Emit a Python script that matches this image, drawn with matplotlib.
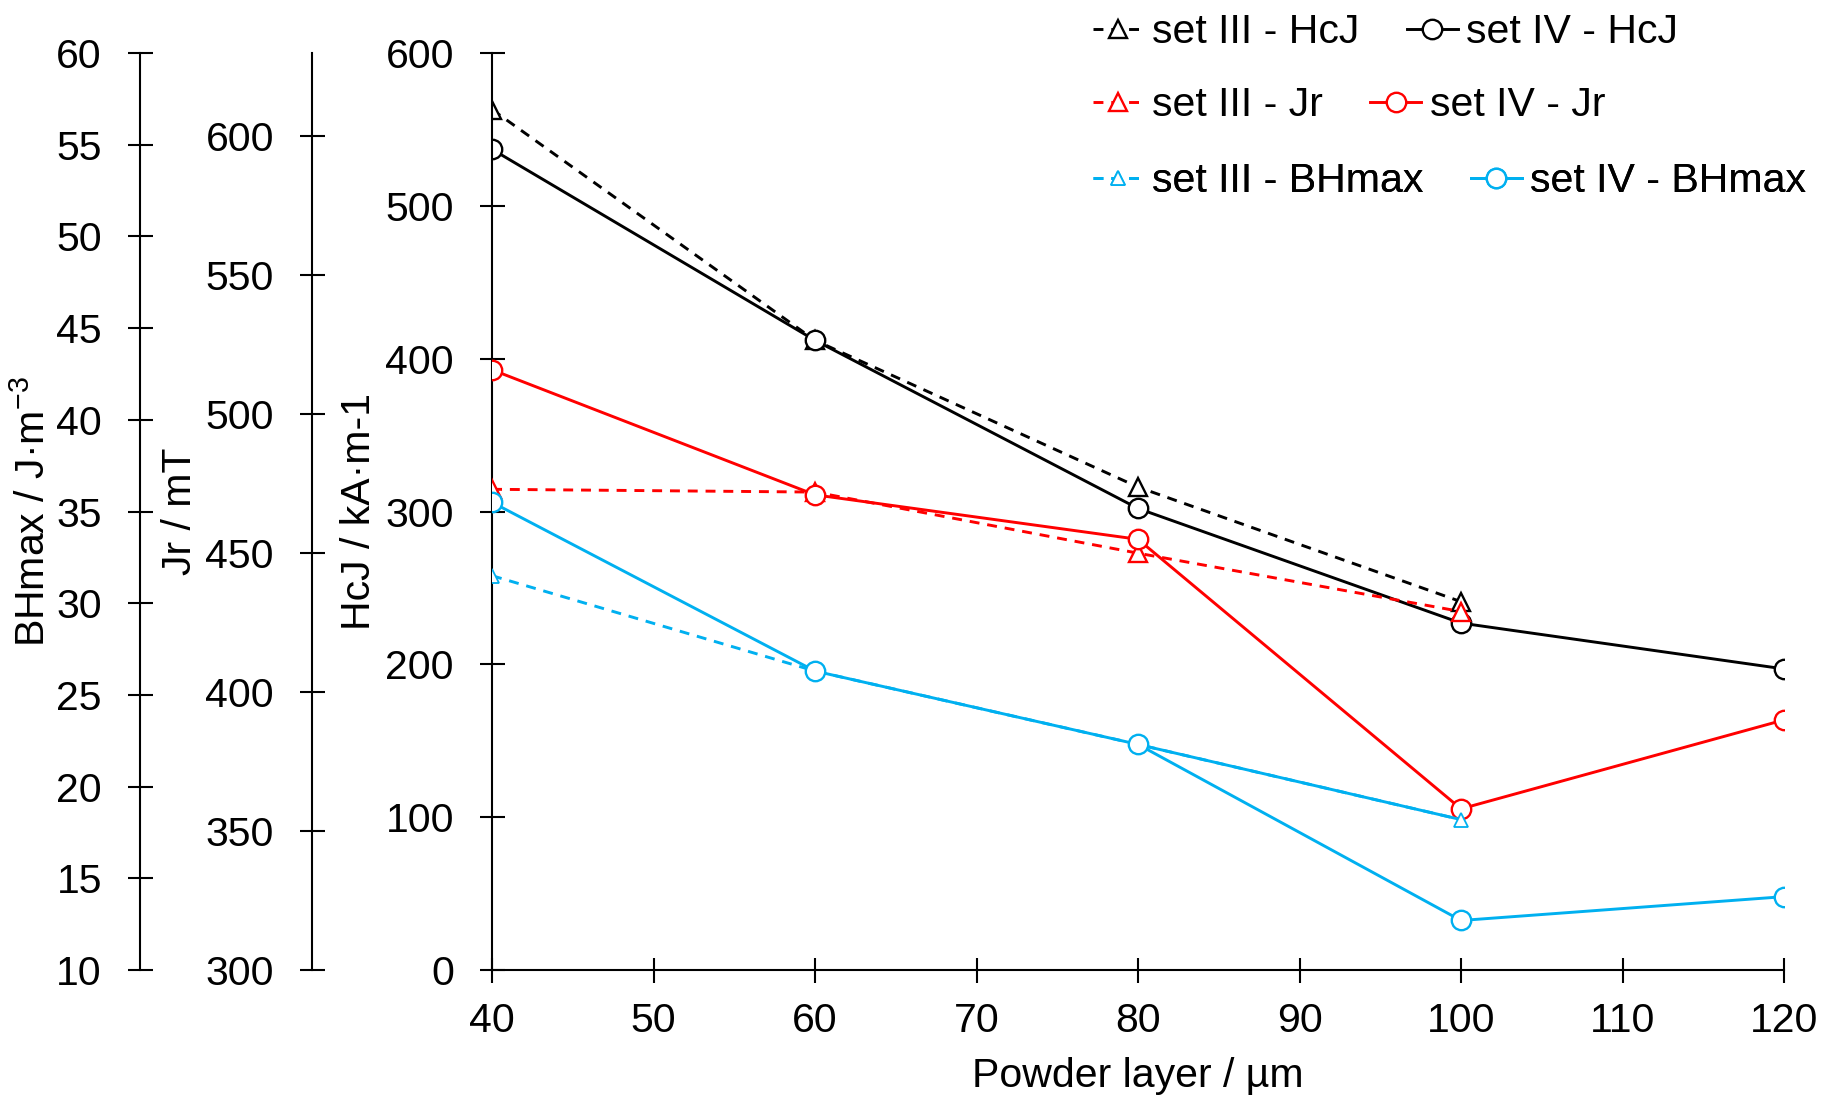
import matplotlib
matplotlib.use('Agg')
import matplotlib.pyplot as plt

plt.rcParams['font.family'] = ['Liberation Sans', 'DejaVu Sans']
plt.rcParams['mathtext.fontset'] = 'custom'
plt.rcParams['mathtext.rm'] = 'Liberation Sans'
plt.rcParams['mathtext.it'] = 'Liberation Sans:italic'
plt.rcParams['mathtext.default'] = 'regular'

# ---- data ----
x_set4 = [40, 60, 80, 100, 120]
x_set3 = [40, 60, 80, 100]
hcj_set3 = [563, 412, 316, 241]
hcj_set4 = [537, 412, 302, 227, 197]
jr_set3 = [473, 472, 450, 429]
jr_set4 = [516, 471, 455, 358, 390]
bh_set3 = [31.5, 26.3, 22.3, 18.2]
bh_set4 = [35.5, 26.3, 22.3, 12.7, 14.0]

x_ticks = [40, 50, 60, 70, 80, 90, 100, 110, 120]
hcj_ticks = [0, 100, 200, 300, 400, 500, 600]
jr_ticks = [300, 350, 400, 450, 500, 550, 600]
bh_ticks = [10, 15, 20, 25, 30, 35, 40, 45, 50, 55, 60]

BLACK = '#000000'
RED = '#FF0000'
BLUE = '#00B0F0'
FS = 29.5

fig = plt.figure(figsize=(18.32, 11.12), dpi=100)
ax = fig.add_axes([0.2686, 0.1277, 0.7052, 0.8246])
ax_jr = ax.twinx()
ax_bh = ax.twinx()

lw = 2.1
mew = 1.7
DASH = (0, (3.4, 2.7))
# HcJ
l1, = ax.plot(x_set3, hcj_set3, ls=DASH, color=BLACK, lw=lw, marker='^', ms=13,
              mfc='white', mec=BLACK, mew=mew, label='set III - HcJ')
l2, = ax.plot(x_set4, hcj_set4, ls='-', color=BLACK, lw=lw, marker='o', ms=14,
              mfc='white', mec=BLACK, mew=mew, label='set IV - HcJ')
# Jr
l3, = ax_jr.plot(x_set3, jr_set3, ls=DASH, color=RED, lw=lw, marker='^', ms=13,
                 mfc='white', mec=RED, mew=mew, label='set III - Jr')
l4, = ax_jr.plot(x_set4, jr_set4, ls='-', color=RED, lw=lw, marker='o', ms=14,
                 mfc='white', mec=RED, mew=mew, label='set IV - Jr')
# BHmax (last segment of set III is drawn solid in the original)
l5, = ax_bh.plot(x_set3, bh_set3, ls=DASH, color=BLUE, lw=lw, marker='^', ms=10,
                 mfc='white', mec=BLUE, mew=1.3, label='set III - BHmax')
ax_bh.plot(x_set3[2:], bh_set3[2:], ls='-', color=BLUE, lw=lw, zorder=1.9)
l6, = ax_bh.plot(x_set4, bh_set4, ls='-', color=BLUE, lw=lw, marker='o', ms=14,
                 mfc='white', mec=BLUE, mew=mew, label='set IV - BHmax')

# main axes
ax.set_xlim(40, 120)
ax.set_ylim(0, 600)
ax.set_xticks(x_ticks)
ax.set_yticks(hcj_ticks)
ax.spines['top'].set_visible(False)
ax.spines['right'].set_visible(False)
for s in ('left', 'bottom'):
    ax.spines[s].set_linewidth(1.5)
ax.tick_params(axis='both', direction='inout', length=18, width=1.5, labelsize=FS, pad=18.5)
ax.tick_params(axis='x', pad=14)
ax.set_xlabel('Powder layer / µm', fontsize=FS, labelpad=12)
ax.set_ylabel('HcJ / kA·m-1', fontsize=FS)
ax.yaxis.set_label_coords(-0.0885, 0.5)

def setup_twin(t, ylim, ticks, pos, label, label_x):
    t.set_ylim(*ylim)
    t.set_yticks(ticks)
    for s in ('top', 'bottom', 'right'):
        t.spines[s].set_visible(False)
    t.spines['left'].set_visible(True)
    t.spines['left'].set_position(('axes', pos))
    t.spines['left'].set_linewidth(1.5)
    t.yaxis.tick_left()
    t.yaxis.set_label_position('left')
    t.tick_params(axis='y', direction='inout', length=18, width=1.5, labelsize=FS, pad=18.5)
    t.set_ylabel(label, fontsize=FS)
    t.yaxis.set_label_coords(label_x, 0.5)

setup_twin(ax_jr, (300, 630), jr_ticks, -0.1393, 'Jr / mT', -0.2265)
setup_twin(ax_bh, (10, 60), bh_ticks, -0.2724, 'BHmax / J·m$^{-3}$', -0.3405)

# legends: one per row, like the reference
rows = [(l1, l2), (l3, l4), (l5, l6)]
row_y = [1.023, 0.943, 0.860]
for (a, b), yy in zip(rows, row_y):
    leg = ax_bh.legend([a, b], [a.get_label(), b.get_label()], ncol=2, frameon=False,
                       fontsize=FS, loc='center left', bbox_to_anchor=(0.465, yy),
                       handlelength=1.25, handletextpad=0.2, columnspacing=1.15,
                       borderaxespad=0, borderpad=0)
    ax_bh.add_artist(leg)

fig.savefig('out.png', dpi=100)
